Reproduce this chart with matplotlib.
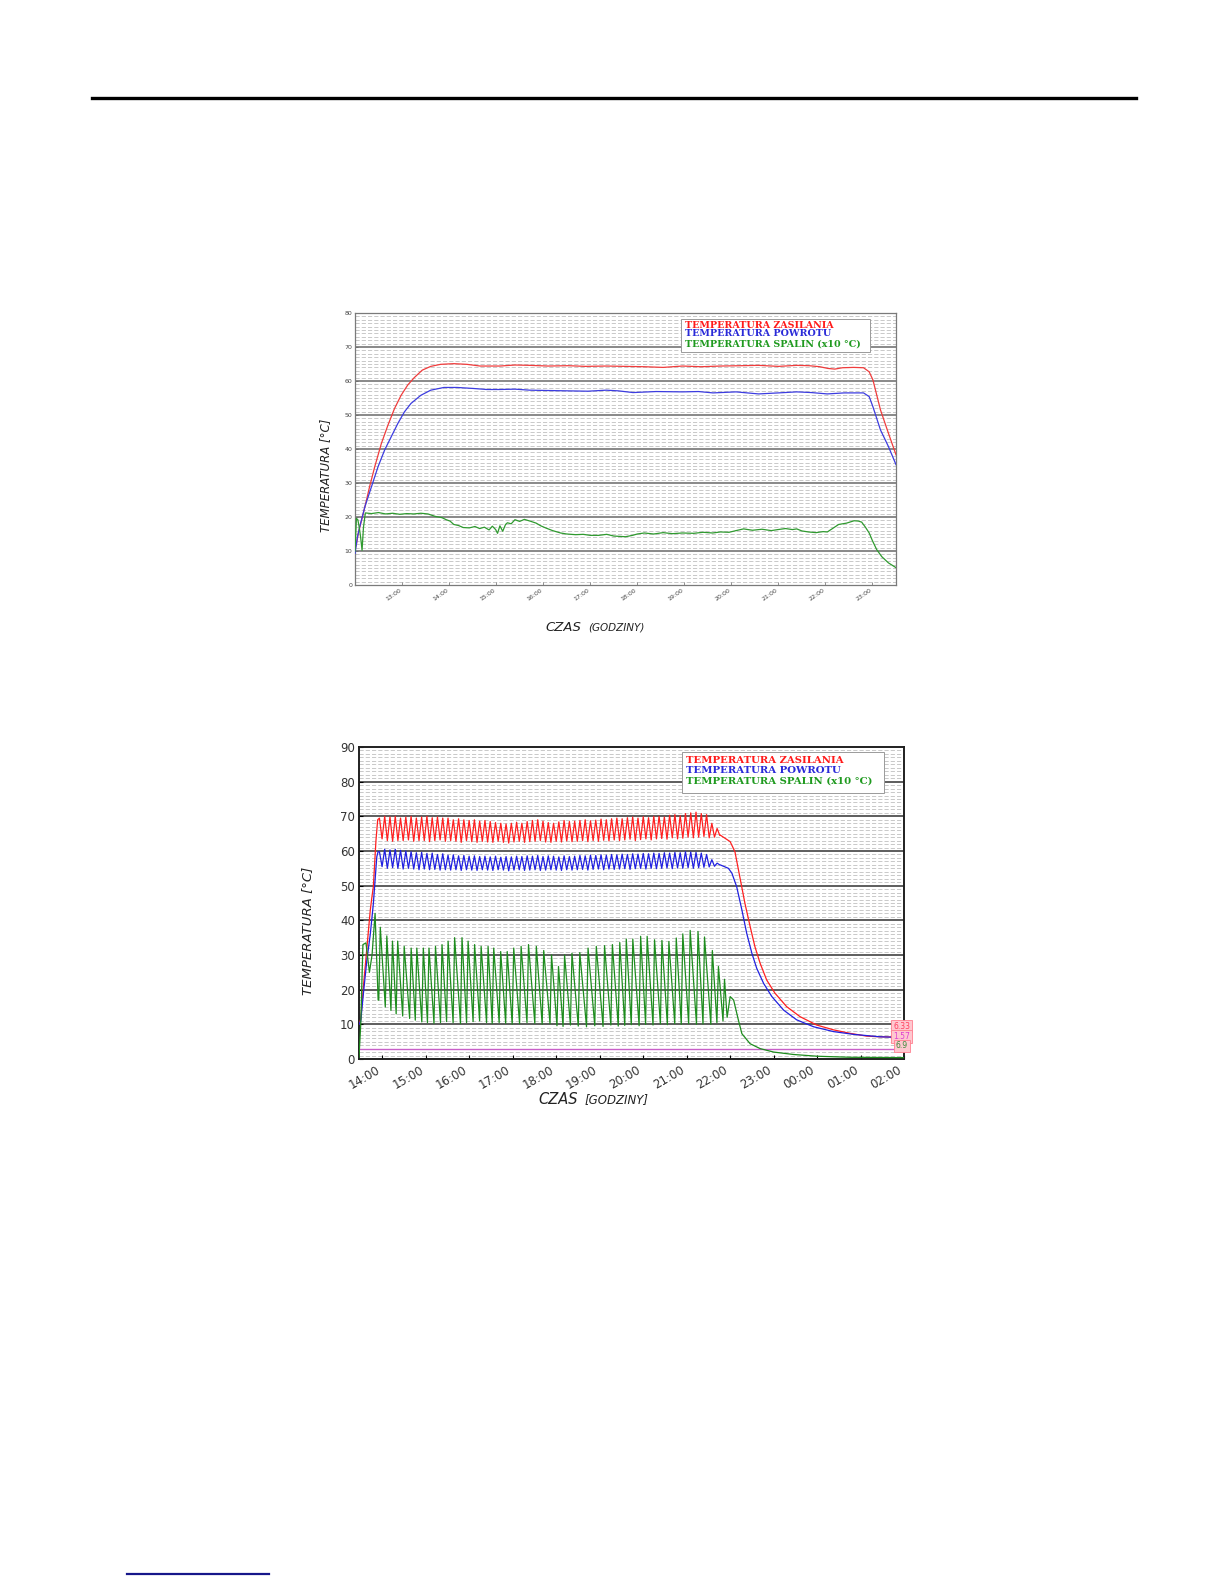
import numpy as np
import matplotlib
matplotlib.use("Agg")
import matplotlib.pyplot as plt
from matplotlib.lines import Line2D
from matplotlib.patches import Rectangle

# ---------------- DATA: chart 1 (hours, °C) ----------------
c1_xticks = [13, 14, 15, 16, 17, 18, 19, 20, 21, 22, 23]
c1_xticklabels = ["13:00", "14:00", "15:00", "16:00", "17:00", "18:00",
                  "19:00", "20:00", "21:00", "22:00", "23:00"]
c1_red_t = [12.00, 12.03, 12.07, 12.14, 12.21, 12.31, 12.42, 12.56, 12.70, 12.84,
            12.98, 13.12, 13.26, 13.43, 13.61, 13.82, 14.10, 14.38, 14.66, 15.08,
            15.40, 15.72, 16.10, 16.53, 16.90, 17.34, 17.75, 18.15, 18.55, 18.96,
            19.35, 19.77, 20.20, 20.58, 21.00, 21.39, 21.65, 21.88, 22.05, 22.20,
            22.36, 22.60, 22.81, 22.93, 23.01, 23.17, 23.34, 23.50]
c1_red_v = [10.5, 12.0, 15.2, 19.1, 23.0, 28.9, 34.8, 41.6, 47.0, 51.9,
            55.8, 58.8, 61.0, 63.2, 64.3, 64.9, 65.1, 64.9, 64.4, 64.4,
            64.7, 64.6, 64.4, 64.5, 64.3, 64.4, 64.3, 64.2, 64.0, 64.4,
            64.2, 64.4, 64.5, 64.6, 64.3, 64.6, 64.5, 64.2, 63.7, 63.5,
            63.9, 64.0, 63.9, 62.7, 60.3, 51.5, 44.6, 38.3]
c1_blue_t = [12.00, 12.05, 12.10, 12.21, 12.35, 12.49, 12.63, 12.77, 12.91, 13.05,
             13.19, 13.40, 13.61, 13.89, 14.17, 14.52, 14.80, 15.08, 15.40, 15.72,
             16.10, 16.53, 16.95, 17.34, 17.60, 17.91, 18.40, 18.96, 19.30, 19.61,
             20.10, 20.58, 21.00, 21.39, 21.70, 22.04, 22.40, 22.81, 22.93, 23.01,
             23.17, 23.34, 23.50]
c1_blue_v = [9.3, 14.0, 17.1, 23.0, 28.9, 34.8, 39.7, 43.6, 47.5, 50.9,
             53.4, 55.8, 57.3, 58.1, 58.1, 57.8, 57.5, 57.5, 57.6, 57.3,
             57.2, 57.1, 57.0, 57.3, 57.1, 56.6, 56.9, 56.8, 56.9, 56.5,
             56.8, 56.2, 56.5, 56.8, 56.6, 56.2, 56.5, 56.5, 55.4, 52.4,
             45.6, 40.7, 35.4]
c1_green_t = [12.00, 12.03, 12.06, 12.09, 12.12, 12.15, 12.18, 12.22, 12.35, 12.50,
              12.65, 12.80, 12.95, 13.10, 13.25, 13.40, 13.55, 13.70, 13.85, 13.94,
              14.02, 14.10, 14.20, 14.30, 14.43, 14.55, 14.65, 14.75, 14.85, 14.92,
              14.99, 15.03, 15.08, 15.14, 15.20, 15.24, 15.32, 15.40, 15.50, 15.60,
              15.72, 15.85, 15.95, 16.05, 16.20, 16.37, 16.50, 16.69, 16.85, 17.00,
              17.18, 17.35, 17.50, 17.75, 17.90, 18.00, 18.15, 18.35, 18.55, 18.75,
              18.96, 19.20, 19.40, 19.60, 19.77, 19.95, 20.10, 20.26, 20.45, 20.65,
              20.85, 20.99, 21.15, 21.30, 21.39, 21.50, 21.64, 21.80, 21.95, 22.04,
              22.15, 22.28, 22.45, 22.61, 22.70, 22.77, 22.85, 22.93, 23.00, 23.09,
              23.20, 23.34, 23.50]
c1_green_v = [10.0, 19.6, 19.2, 17.0, 14.0, 10.2, 17.0, 21.2, 21.0, 21.3,
              20.9, 21.1, 20.8, 21.0, 20.9, 21.1, 20.9, 20.2, 19.8, 19.2,
              18.8, 17.8, 17.5, 16.9, 16.8, 17.2, 16.6, 17.0, 16.2, 17.3,
              16.3, 15.2, 17.4, 15.8, 17.8, 18.3, 18.0, 19.2, 18.7, 19.3,
              18.8, 18.2, 17.4, 16.8, 16.0, 15.3, 15.0, 14.8, 14.9, 14.6,
              14.6, 14.9, 14.4, 14.2, 14.6, 15.0, 15.3, 15.0, 15.4, 15.1,
              15.3, 15.2, 15.5, 15.3, 15.6, 15.5, 16.0, 16.5, 16.1, 16.4,
              16.0, 16.3, 16.6, 16.3, 16.5, 15.9, 15.6, 15.4, 15.7, 15.6,
              16.6, 17.8, 18.2, 18.9, 18.8, 18.5, 17.0, 15.3, 13.0, 10.4,
              8.3, 6.5, 5.1]

# ---------------- DATA: chart 2 (hours, 24 = 00:00 next day) ----------------
c2_xticks = [14, 15, 16, 17, 18, 19, 20, 21, 22, 23, 24, 25, 26]
c2_xticklabels = ["14:00", "15:00", "16:00", "17:00", "18:00", "19:00", "20:00",
                  "21:00", "22:00", "23:00", "00:00", "01:00", "02:00"]
c2_yticks = [0, 10, 20, 30, 40, 50, 60, 70, 80, 90]

# start-up ramps
red_rise_t = [13.46, 13.50, 13.56, 13.64, 13.72, 13.76, 13.79, 13.85, 13.89]
red_rise_v = [10.0, 11.5, 20.7, 32.0, 43.0, 47.0, 49.7, 63.0, 69.0]
blue_rise_t = [13.46, 13.50, 13.56, 13.64, 13.72, 13.79, 13.83, 13.87, 13.90]
blue_rise_v = [10.0, 11.0, 18.7, 28.4, 36.0, 44.8, 51.6, 58.4, 59.8]
green_rise_t = [13.46, 13.50, 13.55, 13.62, 13.70, 13.76, 13.83, 13.90]
green_rise_v = [0.5, 10.0, 33.0, 33.5, 25.0, 30.0, 42.0, 17.0]

# cycling period: supply / return peaks & troughs (one pair per cycle)
cyc_start, cyc_end = 13.93, 21.70
red_peak = [69.5, 70.0, 69.8, 70.0, 69.5,
            69.8, 70.0, 69.5, 69.8, 70.0, 69.6, 69.8, 69.5,
            69.5, 69.0, 69.3, 69.0, 68.8, 69.0, 68.6, 68.8,
            68.5, 68.2, 68.0, 67.8, 68.0, 68.3, 68.0, 68.5,
            68.8, 69.0, 68.6, 68.2, 68.0, 68.4, 68.8, 68.5,
            68.6, 68.8, 69.0, 68.7, 68.9, 69.2, 69.0, 69.3,
            69.5, 69.3, 69.6, 69.8, 69.5, 69.9, 69.6, 70.0,
            70.0, 69.8, 70.3, 70.5, 70.2, 70.8, 71.0,
            71.2, 70.8, 70.5, 68.0, 66.5]
red_trough = [63.5, 63.0, 62.8, 63.0, 63.0,
              63.2, 62.8, 63.0, 63.0, 62.7, 63.0, 63.2, 62.8,
              63.0, 62.8, 62.5, 63.0, 62.7, 62.5, 62.8, 62.6,
              62.5, 62.8, 62.5, 62.3, 62.6, 62.8, 62.5, 62.7,
              62.8, 63.0, 62.6, 62.5, 62.8, 62.6, 62.9, 62.7,
              62.8, 63.0, 62.7, 63.0, 62.8, 63.1, 62.9, 63.2,
              63.0, 63.2, 63.4, 63.0, 63.3, 63.5, 63.2, 63.5,
              63.6, 63.4, 63.8, 63.5, 63.7, 64.0, 63.8,
              64.0, 64.2, 63.8, 64.0, 64.5]
blue_peak = [59.8, 60.5, 60.3, 60.5, 60.2,
             60.0, 59.8, 59.5, 59.6, 59.3, 59.4, 59.0, 59.2,
             58.8, 58.9, 58.6, 58.7, 58.5, 58.6, 58.4, 58.5,
             58.3, 58.5, 58.2, 58.4, 58.3, 58.5, 58.4, 58.6,
             58.5, 58.7, 58.4, 58.6, 58.5, 58.3, 58.6, 58.4,
             58.5, 58.7, 58.6, 58.8, 58.7, 58.9, 58.8, 59.0,
             58.9, 59.1, 59.0, 59.2, 59.1, 59.3, 59.2, 59.4,
             59.3, 59.5, 59.4, 59.6, 59.5, 59.8, 59.7,
             59.6, 59.4, 59.0, 57.5, 56.5]
blue_trough = [55.5, 55.0, 55.2, 55.0, 54.8,
               55.0, 54.8, 54.6, 54.8, 54.6, 54.7, 54.5, 54.6,
               54.5, 54.6, 54.4, 54.6, 54.5, 54.4, 54.6, 54.5,
               54.4, 54.6, 54.5, 54.3, 54.5, 54.6, 54.4, 54.5,
               54.6, 54.4, 54.5, 54.6, 54.5, 54.4, 54.6, 54.5,
               54.6, 54.7, 54.5, 54.7, 54.8, 54.6, 54.8, 54.7,
               54.8, 54.9, 54.7, 54.9, 55.0, 54.8, 55.0, 54.9,
               55.0, 55.1, 54.9, 55.1, 55.0, 55.2, 55.0,
               55.2, 55.3, 55.4, 55.6, 56.0]

# flue gas (x10 °C): peak times, peak values, trough before each peak
green_peak_t = [13.95, 14.10, 14.23, 14.35, 14.50, 14.66, 14.79, 14.94, 15.07, 15.22,
                15.37, 15.51, 15.66, 15.83, 15.97, 16.12, 16.27, 16.43, 16.56, 16.72,
                16.87, 17.02, 17.19, 17.36, 17.54, 17.71, 17.89, 18.05, 18.19, 18.36,
                18.54, 18.73, 18.92, 19.11, 19.29, 19.46, 19.61, 19.76, 19.94, 20.09,
                20.26, 20.43, 20.59, 20.76, 20.91, 21.08, 21.26, 21.41, 21.59, 21.73,
                21.87]
green_peak_v = [38.0, 35.5, 34.0, 34.0, 32.5, 32.0, 32.0, 32.0, 32.0, 32.5,
                33.0, 34.0, 35.0, 35.0, 34.0, 33.0, 32.5, 32.5, 32.0, 31.0,
                31.0, 32.0, 32.5, 33.0, 32.5, 31.3, 30.0, 26.7, 30.0, 30.5,
                30.7, 32.0, 32.5, 32.7, 33.0, 33.6, 34.6, 34.6, 35.4, 35.4,
                34.4, 34.2, 33.9, 34.9, 36.1, 37.1, 36.8, 35.2, 31.3, 26.7,
                23.0]
green_trough_v = [17.0, 15.0, 14.0, 13.0, 12.4, 11.7, 11.2, 10.7, 10.5, 10.3,
                  10.5, 10.8, 10.5, 10.2, 10.5, 10.8, 11.0, 10.5, 10.2, 10.5,
                  10.3, 10.0, 10.2, 10.5, 10.3, 10.0, 10.2, 9.6, 9.4, 9.8,
                  9.5, 9.3, 9.6, 9.4, 9.8, 9.5, 9.7, 9.9, 9.6, 10.0,
                  9.8, 10.1, 9.9, 10.2, 10.0, 10.2, 10.0, 10.1, 10.0, 10.5,
                  11.0]

# cool-down after burner stop
red_fall_t = [21.77, 22.00, 22.11, 22.23, 22.34, 22.46, 22.57, 22.69, 22.84, 23.03,
              23.30, 23.61, 23.99, 24.38, 24.76, 25.14, 25.45, 26.00]
red_fall_v = [64.6, 62.7, 59.8, 52.0, 44.9, 38.2, 32.4, 27.6, 22.8, 19.0,
              15.1, 12.2, 9.8, 8.4, 7.4, 6.6, 6.4, 6.3]
blue_fall_t = [21.77, 21.96, 22.04, 22.15, 22.27, 22.38, 22.50, 22.61, 22.77, 22.96,
               23.23, 23.53, 23.92, 24.38, 24.84, 25.45, 26.00]
blue_fall_v = [56.0, 55.0, 53.6, 49.7, 43.0, 36.3, 30.5, 26.2, 21.8, 18.0,
               14.1, 11.3, 9.3, 7.9, 7.1, 6.4, 6.2]
green_fall_t = [21.93, 22.00, 22.08, 22.19, 22.27, 22.46, 22.69, 23.00, 23.46, 24.00,
                24.76, 26.00]
green_fall_v = [12.0, 18.0, 17.0, 11.2, 7.3, 4.4, 3.0, 2.0, 1.3, 0.8,
                0.5, 0.4]

ref_line_v = 3.0
end_labels = ["6.33", "1.57", "6.9"]
end_label_y = [9.5, 6.6, 3.75]

legend_labels = ["TEMPERATURA ZASILANIA", "TEMPERATURA POWROTU",
                 "TEMPERATURA SPALIN (x10 °C)"]

# ---------------- build chart-2 series ----------------
n_cyc = len(red_peak)
pk_t = np.linspace(cyc_start, cyc_end, n_cyc)
half = (pk_t[1] - pk_t[0]) / 2.0
osc_t = []
red_osc = []
blue_osc = []
for i in range(n_cyc):
    osc_t += [pk_t[i], pk_t[i] + half]
    red_osc += [red_peak[i], red_trough[i]]
    blue_osc += [blue_peak[i], blue_trough[i]]
red2_t = red_rise_t + osc_t + red_fall_t
red2_v = red_rise_v + red_osc + red_fall_v
blue2_t = blue_rise_t + osc_t + blue_fall_t
blue2_v = blue_rise_v + blue_osc + blue_fall_v
g_t, g_v = [], []
for pt, pv, tv in zip(green_peak_t, green_peak_v, green_trough_v):
    g_t += [pt - 0.035, pt]
    g_v += [tv, pv]
green2_t = green_rise_t + g_t + green_fall_t
green2_v = green_rise_v + g_v + green_fall_v

# ---------------- figure ----------------
W, H = 1224, 1584
fig = plt.figure(figsize=(W / 100, H / 100), dpi=100)
fig.patch.set_facecolor("white")


def ax_rect(l, r, t, b):
    return [l / W, 1 - b / H, (r - l) / W, (b - t) / H]


# page decorations
fig.add_artist(Line2D([92 / W, 1136 / W], [1 - 98 / H, 1 - 98 / H],
                      transform=fig.transFigure, color="black", lw=2.4))
fig.add_artist(Line2D([127 / W, 269 / W], [1 - 1574 / H, 1 - 1574 / H],
                      transform=fig.transFigure, color="#16168a", lw=1.6))


def style_grid(ax, ymax, major_c, major_lw):
    ax.set_ylim(0, ymax)
    for v in range(1, ymax):
        if v % 10 == 0:
            ax.axhline(v, color=major_c, lw=major_lw, zorder=1)
        else:
            ax.axhline(v, color="#c0c0c0", lw=0.6, ls=(0, (5, 2.5)), zorder=0.5)


def legend_box(ax, x0, x1, ytop, ybot, ys, fs):
    ax.add_patch(Rectangle((x0, ybot), x1 - x0, ytop - ybot, transform=ax.transAxes,
                           facecolor="white", edgecolor="#9a9a9a", lw=0.7, zorder=5))
    cols = ["#ff1a1a", "#2a2ad8", "#1f9a1f"]
    for lab, y, c in zip(legend_labels, ys, cols):
        ax.text(x0 + 0.008, y, lab, transform=ax.transAxes, color=c, fontsize=fs,
                family="DejaVu Serif", fontweight="bold", va="center", ha="left",
                zorder=6)


# ---------- chart 1 ----------
ax1 = fig.add_axes(ax_rect(355, 896, 313, 585))
style_grid(ax1, 80, "#6a6a6a", 1.1)
ax1.plot(c1_red_t, c1_red_v, color="#f03c3c", lw=0.9, zorder=3)
ax1.plot(c1_blue_t, c1_blue_v, color="#3c3ce0", lw=0.9, zorder=3)
ax1.plot(c1_green_t, c1_green_v, color="#2f9a2f", lw=0.9, zorder=3)
ax1.set_xlim(12.0, 23.5)
ax1.set_xticks(c1_xticks)
ax1.set_xticklabels(c1_xticklabels, rotation=35, ha="right", fontsize=4.5,
                    color="#444444")
ax1.set_yticks(list(range(0, 81, 10)))
ax1.set_yticklabels([str(v) for v in range(0, 81, 10)], fontsize=4.5, color="#444444")
ax1.tick_params(direction="in", length=2, width=0.5, pad=2, colors="#666666",
                labelcolor="#444444")
for s in ax1.spines.values():
    s.set_color("#7a7a7a")
    s.set_linewidth(0.9)
legend_box(ax1, (681 - 355) / 541, (870 - 355) / 541, (585 - 319) / 272,
           (585 - 352) / 272,
           [(585 - 325) / 272, (585 - 334) / 272, (585 - 344) / 272], 6.8)
fig.text(326 / W, 1 - 475 / H, "TEMPERATURA [°C]", rotation=90, ha="center",
         va="center", fontsize=8.5, style="italic", color="#222222")
fig.text(581 / W, 1 - 628 / H, "CZAS", ha="right", va="center", fontsize=9.5,
         style="italic", color="#222222")
fig.text(588 / W, 1 - 628 / H, "(GODZINY)", ha="left", va="center", fontsize=7.5,
         style="italic", color="#222222")

# ---------- chart 2 ----------
ax2 = fig.add_axes(ax_rect(359, 904, 747, 1059))
style_grid(ax2, 90, "#505050", 1.3)
ax2.axhline(ref_line_v, color="#c860c8", lw=1.0, zorder=2)
ax2.plot(red2_t, red2_v, color="#ff2020", lw=0.9, zorder=3)
ax2.plot(blue2_t, blue2_v, color="#2020e0", lw=0.9, zorder=3)
ax2.plot(green2_t, green2_v, color="#1e8c1e", lw=0.9, zorder=3)
ax2.set_xlim(13.46, 26.0)
ax2.set_xticks(c2_xticks)
ax2.set_xticklabels(c2_xticklabels, rotation=30, ha="right", fontsize=8.5,
                    color="#333333")
ax2.set_yticks(c2_yticks)
ax2.set_yticklabels([str(v) for v in c2_yticks], fontsize=8.5, color="#333333")
ax2.tick_params(direction="in", length=3, width=0.8, pad=3)
for s in ax2.spines.values():
    s.set_color("#202020")
    s.set_linewidth(1.4)
legend_box(ax2, (682 - 359) / 545, (884 - 359) / 545, (1059 - 752) / 312,
           (1059 - 793) / 312,
           [(1059 - 760) / 312, (1059 - 770.5) / 312, (1059 - 781) / 312], 7.3)
lab_cols = ["#ff4060", "#e040d0", "#3c8c3c"]
for txt, yv, c in zip(end_labels, end_label_y, lab_cols):
    ax2.text(25.95, yv, txt, color=c, fontsize=5.5, ha="center", va="center",
             clip_on=False, zorder=7,
             bbox=dict(boxstyle="square,pad=0.25", facecolor="#ffc8d0",
                       edgecolor="#ff8090", lw=0.6))
fig.text(308 / W, 1 - 931 / H, "TEMPERATURA [°C]", rotation=90, ha="center",
         va="center", fontsize=9.5, style="italic", color="#222222")
fig.text(578 / W, 1 - 1100 / H, "CZAS", ha="right", va="center", fontsize=10.5,
         style="italic", color="#222222")
fig.text(585 / W, 1 - 1100 / H, "[GODZINY]", ha="left", va="center", fontsize=8.5,
         style="italic", color="#222222")

fig.savefig("out.png", dpi=100, facecolor="white")
